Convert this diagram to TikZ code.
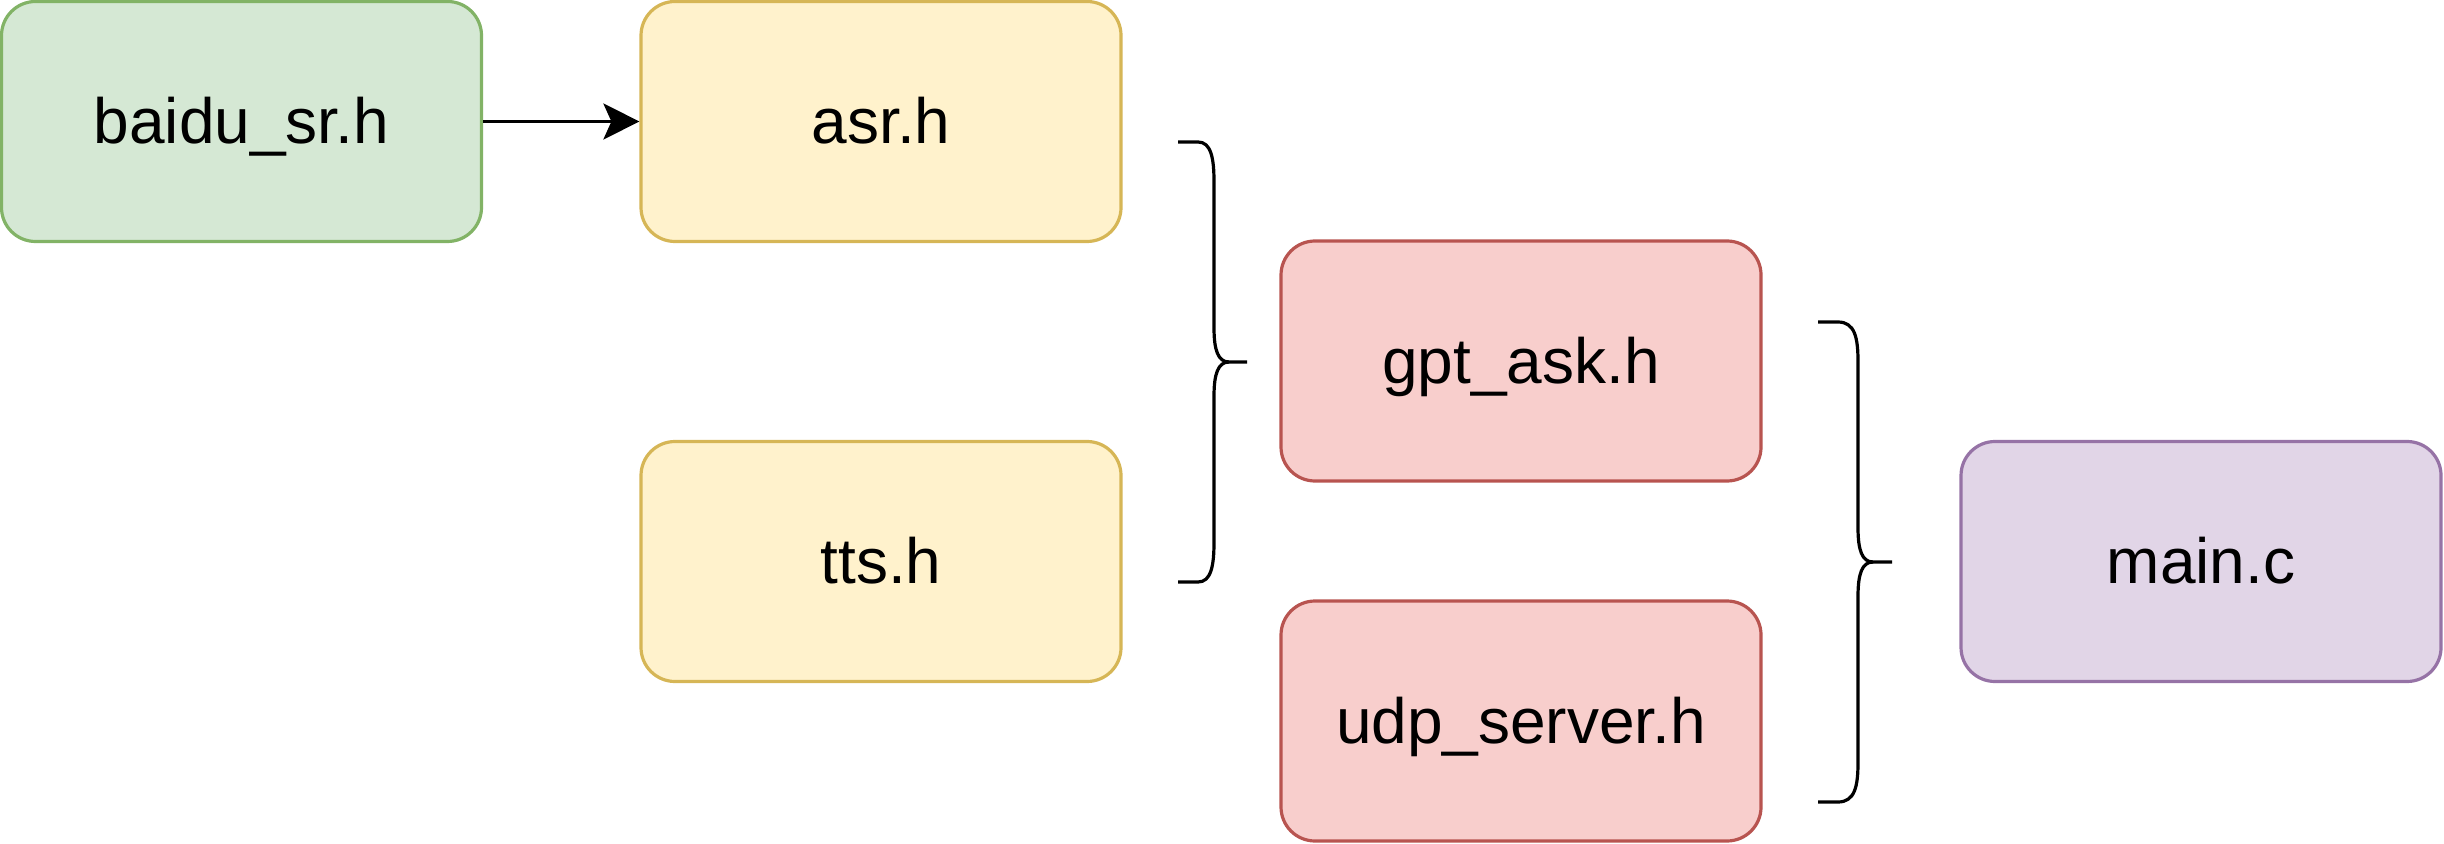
\documentclass[tikz,border=0pt]{standalone}
\usepackage{fontspec}
\setmainfont{Liberation Sans}
\usetikzlibrary{arrows.meta}
\definecolor{gfill}{HTML}{D5E8D4}\definecolor{gline}{HTML}{82B366}
\definecolor{yfill}{HTML}{FFF2CC}\definecolor{yline}{HTML}{D6B656}
\definecolor{rfill}{HTML}{F8CECC}\definecolor{rline}{HTML}{B85450}
\definecolor{pfill}{HTML}{E1D5E7}\definecolor{pline}{HTML}{9673A6}
\tikzset{
  box/.style={draw, line width=1.6pt, rounded corners=17pt, minimum width=240pt, minimum height=120pt, inner sep=0pt, text height=22pt, text depth=0pt, font=\fontsize{32}{38}\selectfont},
  greenbox/.style={box, fill=gfill, draw=gline},
  yellowbox/.style={box, fill=yfill, draw=yline},
  redbox/.style={box, fill=rfill, draw=rline},
  purplebox/.style={box, fill=pfill, draw=pline},
  bracket/.style={line width=1.6pt, line cap=butt},
  conn/.style={line width=1.6pt, -{Stealth[length=18pt,width=18pt,inset=4pt]}}
}
\begin{document}
\begin{tikzpicture}[x=0.5pt,y=-0.5pt]
\useasboundingbox (0,0) rectangle (2444,844);
\node[greenbox] (baidu) at (241.5,121.5) {baidu\_sr.h};
\node[yellowbox] (asr) at (881,121.5) {asr.h};
\node[yellowbox] (tts) at (881,561.5) {tts.h};
\node[redbox] (gpt) at (1521,361) {gpt\_ask.h};
\node[redbox] (udp) at (1521,721) {udp\_server.h};
\node[purplebox] (main) at (2201,561.5) {main.c};
\draw[conn] (baidu.east) -- (asr.west);
% bracket 1
\draw[bracket] (1178,142) -- (1198,142) .. controls (1211,142) and (1214,158) .. (1214,182)
  -- (1214,328) .. controls (1214,350) and (1218,362) .. (1229,362) -- (1247,362);
\draw[bracket] (1229,362) .. controls (1218,362) and (1214,374) .. (1214,396)
  -- (1214,542) .. controls (1214,566) and (1211,582) .. (1198,582) -- (1178,582);
% bracket 2
\draw[bracket] (1818,322) -- (1838,322) .. controls (1855,322) and (1858,338) .. (1858,362)
  -- (1858,528) .. controls (1858,550) and (1862,562) .. (1873,562) -- (1892,562);
\draw[bracket] (1873,562) .. controls (1862,562) and (1858,574) .. (1858,596)
  -- (1858,762) .. controls (1858,786) and (1855,802) .. (1838,802) -- (1818,802);
\end{tikzpicture}
\end{document}
